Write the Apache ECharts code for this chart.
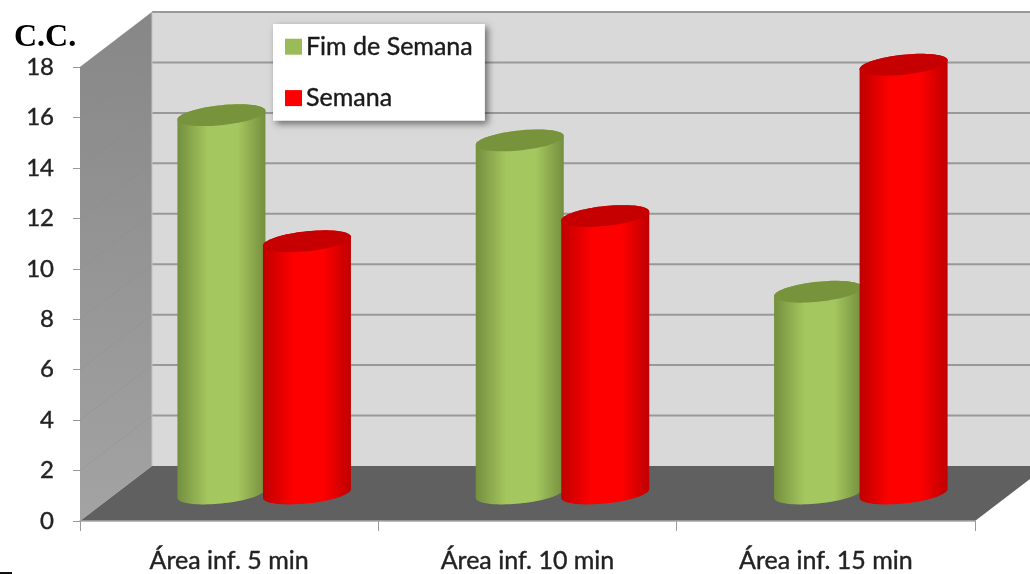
<!DOCTYPE html>
<html><head><meta charset="utf-8">
<style>html,body{margin:0;padding:0;background:#fff}#c{width:1030px;height:574px;filter:blur(0.5px)}</style>
<script src="https://cdn.jsdelivr.net/npm/echarts@6/dist/echarts.min.js"></script>
</head><body><div id="c"></div>
<script>
const categories = ['Área inf. 5 min', 'Área inf. 10 min', 'Área inf. 15 min'];
const fimDeSemana = [15, 14, 8];
const semana = [10, 11, 17];
const yTicks = [0, 2, 4, 6, 8, 10, 12, 14, 16, 18];

const DX = 72, DY = 55;   // depth of the 3D box
const chart = echarts.init(document.getElementById('c'));

function wallItem(params, api) {
  const cs = params.coordSys;
  const L = cs.x, R = cs.x + cs.width, T = cs.y, B = cs.y + cs.height;
  const ch = [];
  ch.push({type:'polygon', shape:{points:[[L+DX,T-DY],[R+DX,T-DY],[R+DX,B-DY],[L+DX,B-DY]]},
    style:{fill:'#d9d9d9'}});
  ch.push({type:'polygon', shape:{points:[[L,T],[L+DX,T-DY],[L+DX,B-DY],[L,B]]},
    style:{fill:{type:'linear',x:0,y:0,x2:0,y2:1,colorStops:[{offset:0,color:'#878787'},{offset:1,color:'#a3a3a3'}]}}});
  yTicks.forEach(function (t) {
    const y = api.coord([0, t])[1];
    if (t > 0) {
      ch.push({type:'line', shape:{x1:L,y1:y,x2:L+DX,y2:y-DY}, style:{stroke:'#7f7f7f',lineWidth:1,opacity:.18}});
      ch.push({type:'line', shape:{x1:L+DX,y1:y-DY,x2:R+DX,y2:y-DY}, style:{stroke:'#999999',lineWidth:2}});
    }
  });
  ch.push({type:'line', shape:{x1:L+DX,y1:T-DY,x2:L+DX,y2:B-DY}, style:{stroke:'#c4c4c4',lineWidth:1}});
  ch.push({type:'polygon', shape:{points:[[L,B],[L+DX,B-DY],[R+DX,B-DY],[R,B]]}, style:{fill:'#606060'}});
  return {type:'group', children:ch};
}

function cylinderItem(side, edge, mid, cap) {
  return function (params, api) {
    const band = api.size([1, 0])[0];
    const a = band * 0.1475, b = 10, tilt = 0.1;
    const top = api.coord([api.value(0), api.value(1)]);
    const base = api.coord([api.value(0), 0]);
    const cx = top[0] + DX / 2 - 1 + side * band * 0.1433;
    const cyTop = top[1] - DY / 2, cyBase = base[1] - DY / 2;
    const pt = function (cy, t) {
      return [cx + a * Math.cos(t), cy + b * Math.sin(t) - a * Math.cos(t) * tilt];
    };
    const body = [], rim = [];
    for (let i = 0; i <= 40; i++) body.push(pt(cyBase, Math.PI * i / 40));
    for (let i = 0; i <= 40; i++) body.push(pt(cyTop, Math.PI + Math.PI * i / 40));
    for (let i = 0; i < 80; i++) rim.push(pt(cyTop, 2 * Math.PI * i / 80));
    return {type:'group', children:[
      {type:'polygon', shape:{points:body}, style:{fill:{type:'linear',x:0,y:0,x2:1,y2:0,colorStops:[
        {offset:0,color:edge},{offset:.35,color:mid},{offset:.68,color:mid},{offset:1,color:edge}]}}},
      {type:'polygon', shape:{points:rim}, style:{fill:cap}}
    ]};
  };
}

const fnt = 'Lato, "Open Sans", sans-serif';
const bolden = {textBorderColor:'#222', textBorderWidth:0.4};
chart.setOption({
  animation:false,
  backgroundColor:'#fff',
  title:{text:'C.C.', left:14, top:22, padding:0,
    textStyle:{fontFamily:'"Liberation Serif",serif', fontWeight:'bold', fontSize:32, color:'#000'}},
  grid:{left:80, right:55, top:67, bottom:53},
  legend:{
    left:273, top:24, orient:'vertical', icon:'rect', itemWidth:17, itemHeight:16, itemGap:26,
    padding:[10,12,10,12], backgroundColor:'#fff',
    shadowColor:'rgba(0,0,0,.5)', shadowBlur:7, shadowOffsetX:3, shadowOffsetY:3,
    data:['Fim de Semana','Semana'],
    textStyle:{fontFamily:fnt, fontSize:25, color:'#1a1a1a', padding:[0,0,0,-1], textBorderColor:'#1a1a1a', textBorderWidth:0.4}
  },
  xAxis:{type:'category', data:categories, z:3,
    axisLine:{lineStyle:{color:'#a8a8a8',width:1.5}},
    axisTick:{show:true, length:10, lineStyle:{color:'#9a9a9a',width:1}},
    axisLabel:Object.assign({fontFamily:fnt, fontSize:25, color:'#222', margin:27}, bolden),
    splitLine:{show:false}},
  yAxis:{type:'value', min:0, max:18, interval:2,
    axisLine:{show:false},
    axisTick:{show:true, length:7, lineStyle:{color:'#9a9a9a',width:1}},
    axisLabel:Object.assign({fontFamily:fnt, fontSize:24, color:'#222', margin:26}, bolden),
    splitLine:{show:false}},
  series:[
    {type:'custom', name:'wall', silent:true, clip:false, z:0, data:[[0,0]], renderItem:wallItem},
    {type:'custom', name:'Fim de Semana', clip:false, z:2, itemStyle:{color:'#9bbb59'},
      data:categories.map((c,i)=>[i,fimDeSemana[i]]), encode:{x:0,y:1},
      renderItem:cylinderItem(-1,'#748f3e','#a5c75f','#77933c')},
    {type:'custom', name:'Semana', clip:false, z:3, itemStyle:{color:'#ff0000'},
      data:categories.map((c,i)=>[i,semana[i]]), encode:{x:0,y:1},
      renderItem:cylinderItem(1,'#bf0000','#ff0000','#c60000')}
  ],
  graphic:[{type:'rect', left:0, top:572, shape:{width:12,height:2}, style:{fill:'#111'}}]
});
</script></body></html>
